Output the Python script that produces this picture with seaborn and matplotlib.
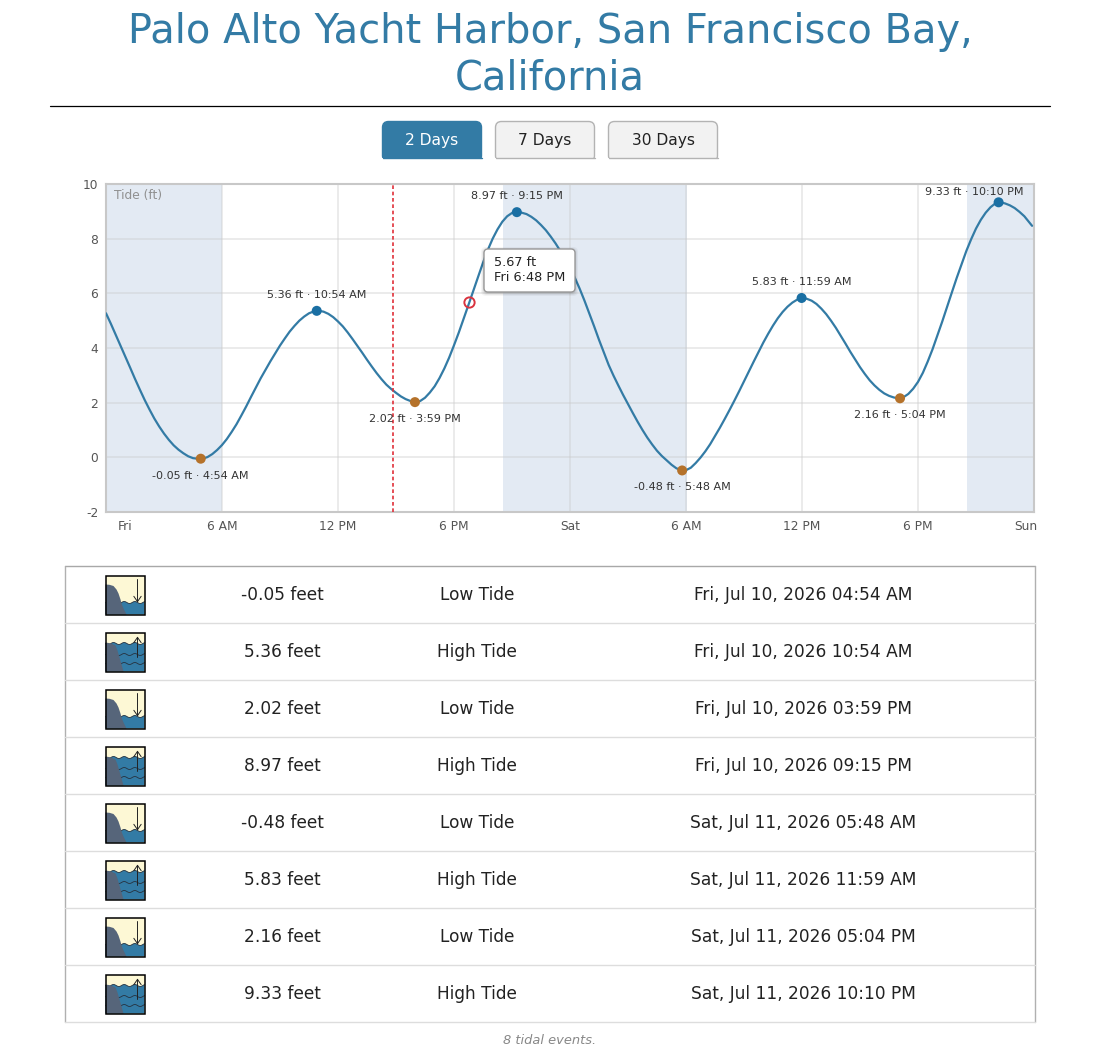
import numpy as np
import pandas as pd
import matplotlib
matplotlib.use('Agg')
import matplotlib.pyplot as plt
from matplotlib.patches import FancyBboxPatch, Polygon, Rectangle
from matplotlib.transforms import ScaledTranslation
import seaborn as sns


TITLE_LINES = ['Palo Alto Yacht Harbor, San Francisco Bay,', 'California']
BUTTONS = ['2 Days', '7 Days', '30 Days']

# tide height, one value every 15 minutes from Fri 00:00
# (8 values a row = 2 hours), the last one is where the line stops
tide_ft = [5.27, 4.89, 4.49, 4.09, 3.68, 3.28, 2.87, 2.48,
           2.10, 1.75, 1.42, 1.13, 0.87, 0.64, 0.44, 0.28,
           0.15, 0.04, -0.03, -0.05, -0.05, 0.01, 0.12, 0.27,
           0.45, 0.67, 0.93, 1.21, 1.53, 1.86, 2.21, 2.55,
           2.89, 3.20, 3.51, 3.80, 4.09, 4.35, 4.60, 4.81,
           5.00, 5.15, 5.27, 5.34, 5.36, 5.33, 5.25, 5.13,
           4.97, 4.79, 4.57, 4.33, 4.08, 3.83, 3.57, 3.32,
           3.08, 2.86, 2.66, 2.50, 2.36, 2.23, 2.13, 2.06,
           2.02, 2.06, 2.18, 2.37, 2.60, 2.90, 3.25, 3.65,
           4.10, 4.57, 5.07, 5.58, 6.10, 6.61, 7.12, 7.59,
           8.00, 8.34, 8.62, 8.82, 8.94, 8.97, 8.95, 8.90,
           8.80, 8.67, 8.50, 8.31, 8.08, 7.83, 7.55, 7.26,
           6.95, 6.57, 6.17, 5.73, 5.26, 4.79, 4.30, 3.84,
           3.38, 2.99, 2.63, 2.28, 1.95, 1.62, 1.30, 1.00,
           0.72, 0.47, 0.24, 0.05, -0.11, -0.27, -0.40, -0.47,
           -0.47, -0.38, -0.21, -0.01, 0.22, 0.48, 0.78, 1.08,
           1.40, 1.73, 2.07, 2.42, 2.78, 3.14, 3.50, 3.85,
           4.20, 4.52, 4.82, 5.09, 5.32, 5.51, 5.66, 5.77,
           5.83, 5.80, 5.73, 5.61, 5.44, 5.24, 5.00, 4.74,
           4.45, 4.16, 3.86, 3.58, 3.30, 3.05, 2.82, 2.63,
           2.47, 2.34, 2.25, 2.19, 2.16, 2.20, 2.32, 2.51,
           2.76, 3.09, 3.50, 3.95, 4.45, 4.96, 5.50, 6.03,
           6.56, 7.06, 7.55, 7.98, 8.37, 8.69, 8.95, 9.15,
           9.29, 9.33, 9.29, 9.22, 9.12, 8.98, 8.82, 8.60,
           8.47]
tide_hours = [i * 0.25 for i in range(len(tide_ft) - 1)] + [47.9]

event_hours = [4.9, 10.9, 15.98, 21.25, 29.8, 35.98, 41.07, 46.17]
event_ft = [-0.05, 5.36, 2.02, 8.97, -0.48, 5.83, 2.16, 9.33]
event_kind = ['Low', 'High', 'Low', 'High', 'Low', 'High', 'Low', 'High']
event_time = ['4:54 AM', '10:54 AM', '3:59 PM', '9:15 PM', '5:48 AM', '11:59 AM', '5:04 PM', '10:10 PM']
event_date = ['Fri, Jul 10, 2026 04:54 AM', 'Fri, Jul 10, 2026 10:54 AM', 'Fri, Jul 10, 2026 03:59 PM',
              'Fri, Jul 10, 2026 09:15 PM', 'Sat, Jul 11, 2026 05:48 AM', 'Sat, Jul 11, 2026 11:59 AM',
              'Sat, Jul 11, 2026 05:04 PM', 'Sat, Jul 11, 2026 10:10 PM']

night_start = [0, 20.53, 44.53]
night_end = [6, 30.03, 48]
now_hour = 14.85
cursor_hour = 18.8
cursor_ft = 5.67

x_ticks = [0, 6, 12, 18, 24, 30, 36, 42, 48]
x_labels = ['Fri', '6 AM', '12 PM', '6 PM', 'Sat', '6 AM', '12 PM', '6 PM', 'Sun']
y_ticks = [-2, 0, 2, 4, 6, 8, 10]

BLUE = '#337ba5'
W, H = 1100, 1050

sns.set_theme(style='white')
plt.rcParams['font.family'] = ['DejaVu Sans']
plt.rcParams['axes.unicode_minus'] = False

fig = plt.figure(figsize=(W / 100, H / 100), dpi=100)

# ── tide chart ────────────────────────────────
ax = fig.add_axes([106 / W, 1 - 512 / H, 928 / W, 328 / H])

for a, b in zip(night_start, night_end):
    ax.axvspan(a, b, color='#e3eaf3', lw=0, zorder=0)

sns.lineplot(x=tide_hours, y=tide_ft, color=BLUE, lw=1.6, sort=False,
             estimator=None, ax=ax, zorder=3)

events = pd.DataFrame({'hour': event_hours, 'ft': event_ft, 'kind': event_kind})
sns.scatterplot(data=events, x='hour', y='ft', hue='kind', s=52, linewidth=0,
                palette={'High': '#1a6fa3', 'Low': '#b5722a'}, legend=False,
                ax=ax, zorder=4, clip_on=False)

ax.axvline(now_hour, color='#e0303a', lw=1.2, ls=(0, (2.2, 1.6)), zorder=3)
ax.plot([cursor_hour], [cursor_ft], 'o', ms=7.4, mfc='none', mec='#d9333f', mew=1.4, zorder=5)

for i, (h, v, kind, t) in enumerate(zip(event_hours, event_ft, event_kind, event_time)):
    dy = 11.5 if kind == 'High' else -12.2
    dx = 0
    if i == len(event_hours) - 1:  # last label is pushed inside the plot
        dx, dy = -17.5, 7.2
    ax.annotate(f'{v:.2f} ft · {t}', (h, v), xytext=(dx, dy), textcoords='offset points',
                ha='center', va='center', fontsize=8, color='#333333', zorder=6)

ax.text(8 / 928, 1 - 12 / 328, 'Tide (ft)', transform=ax.transAxes,
        fontsize=8.8, color='#909090', ha='left', va='center')

ax.set_xlim(0, 48)
ax.set_ylim(-2, 10)
ax.set_xticks(x_ticks)
ax.set_xticklabels(x_labels)
ax.set_yticks(y_ticks)
ax.set_xlabel('')
ax.set_ylabel('')
ax.set_axisbelow(True)
ax.grid(True, color='#c9c9c9', alpha=0.46, lw=1.1)
ax.tick_params(axis='both', length=0, labelsize=8.8, labelcolor='#555555')
ax.tick_params(axis='x', pad=6)
ax.tick_params(axis='y', pad=5.5)
for spine in ax.spines.values():
    spine.set_color('#c8c8c8')
    spine.set_linewidth(1.5)

labels = ax.get_xticklabels()
labels[0].set_transform(labels[0].get_transform() + ScaledTranslation(19 / 100, 0, fig.dpi_scale_trans))
labels[-1].set_transform(labels[-1].get_transform() + ScaledTranslation(-8 / 100, 0, fig.dpi_scale_trans))

# ── everything else, in pixel coordinates ─────
page = fig.add_axes([0, 0, 1, 1], zorder=10)
page.set_xlim(0, W)
page.set_ylim(H, 0)
page.axis('off')
page.patch.set_alpha(0)

page.text(550, 32, TITLE_LINES[0], fontsize=28.8, color=BLUE, ha='center', va='center')
page.text(550, 78, TITLE_LINES[1], fontsize=28.8, color=BLUE, ha='center', va='center')
page.plot([50, 1050], [106, 106], color='black', lw=0.9)


def draw_button(x0, x1, text, active):
    fill = BLUE if active else '#f2f2f2'
    edge = BLUE if active else '#b3b3b3'
    page.add_patch(FancyBboxPatch((x0 + 0.5, 121.5), x1 - x0 - 1, 40, boxstyle='round,pad=0,rounding_size=6',
                                  fc=fill, ec=edge, lw=1, zorder=2))
    page.add_patch(Rectangle((x0 - 2, 158), x1 - x0 + 4, 6, fc='white', ec='none', zorder=3))
    page.plot([x0 + 0.5, x1 - 0.5], [157.5, 157.5], color=edge, lw=1, zorder=4)
    page.text((x0 + x1) / 2, 140, text, fontsize=11.2, ha='center', va='center',
              color='white' if active else '#222222', zorder=5)


draw_button(382, 482, BUTTONS[0], True)
draw_button(495, 595, BUTTONS[1], False)
draw_button(608, 718, BUTTONS[2], False)

# tooltip
for grow, alpha in [(4, 0.04), (3, 0.05), (2, 0.07), (1, 0.09)]:
    page.add_patch(FancyBboxPatch((484 - grow + 1, 249 - grow + 2), 91 + 2 * grow - 2, 43 + 2 * grow - 2,
                                  boxstyle='round,pad=0,rounding_size=5', fc='black', ec='none', alpha=alpha, zorder=6))
page.add_patch(FancyBboxPatch((484, 249), 91, 43, boxstyle='round,pad=0,rounding_size=4',
                              fc='white', ec='#999999', lw=1, zorder=7))
page.text(493.5, 262.5, '5.67 ft', fontsize=9.3, color='#222222', va='center', zorder=8)
page.text(493.5, 277.5, 'Fri 6:48 PM', fontsize=9.3, color='#222222', va='center', zorder=8)


def draw_icon(x0, y0, kind):
    """Small tide icon, 40 px square with its top-left corner at x0, y0."""
    t = np.linspace(0, 39, 80)
    page.add_patch(Rectangle((x0, y0), 39, 39, fc='#fdf8d5', ec='none', zorder=2))
    levels = [27] if kind == 'Low' else [11, 22, 31]
    wave = levels[0] + 1.0 * np.sin(t / 1.7)
    water = np.column_stack([np.r_[x0 + t, x0 + 39, x0], np.r_[y0 + wave, y0 + 39, y0 + 39]])
    page.add_patch(Polygon(water, fc=BLUE, ec='none', zorder=3))
    for lev in levels:
        page.plot(x0 + t, y0 + lev + 1.0 * np.sin(t / 1.7), color='#26323f', lw=0.6, zorder=4)
    if kind == 'Low':
        rock = [(0, 9), (4, 9.3), (8, 10.5), (11, 14), (13, 18), (15, 24), (16, 28), (18, 33), (21, 39), (0, 39)]
    else:
        rock = [(0, 10), (5, 10.8), (10, 13), (12, 18), (14, 25), (16, 32), (18, 39), (0, 39)]
    page.add_patch(Polygon([(x0 + a, y0 + b) for a, b in rock], fc='#56657a', ec='none', zorder=5))
    if kind == 'Low':
        tail, head = y0 + 4, y0 + 27
    else:
        tail, head = y0 + 25, y0 + 4
    page.annotate('', (x0 + 32, head), (x0 + 32, tail),
                  arrowprops=dict(arrowstyle='->,head_width=0.22,head_length=0.32', lw=0.7,
                                  color='#222222', shrinkA=0, shrinkB=0), zorder=6)
    page.add_patch(Rectangle((x0, y0), 39, 39, fc='none', ec='black', lw=1.1, zorder=7))


# ── events table ──────────────────────────────
row_top = 566
row_h = 57
page.plot([65, 1034.5], [row_top, row_top], color='#a8a8a8', lw=1)
page.plot([65, 65], [row_top, row_top + 8 * row_h], color='#b0b0b0', lw=1)
page.plot([1034.5, 1034.5], [row_top, row_top + 8 * row_h], color='#b0b0b0', lw=1)
for i, (v, kind, date) in enumerate(zip(event_ft, event_kind, event_date)):
    y = row_top + i * row_h
    page.plot([65, 1034.5], [y + row_h, y + row_h], color='#dddddd', lw=1)
    draw_icon(105.5, y + 9.5, kind)
    page.text(282.5, y + 29, f'{v:.2f} feet', fontsize=12.25, color='#222222', ha='center', va='center')
    page.text(477, y + 29, f'{kind} Tide', fontsize=12.25, color='#222222', ha='center', va='center')
    page.text(803.5, y + 29, date, fontsize=12.25, color='#222222', ha='center', va='center')

page.text(550, 1040.5, f'{len(event_ft)} tidal events.', fontsize=9.4, style='italic',
          color='#888888', ha='center', va='center')

fig.savefig('out.png', dpi=100)
